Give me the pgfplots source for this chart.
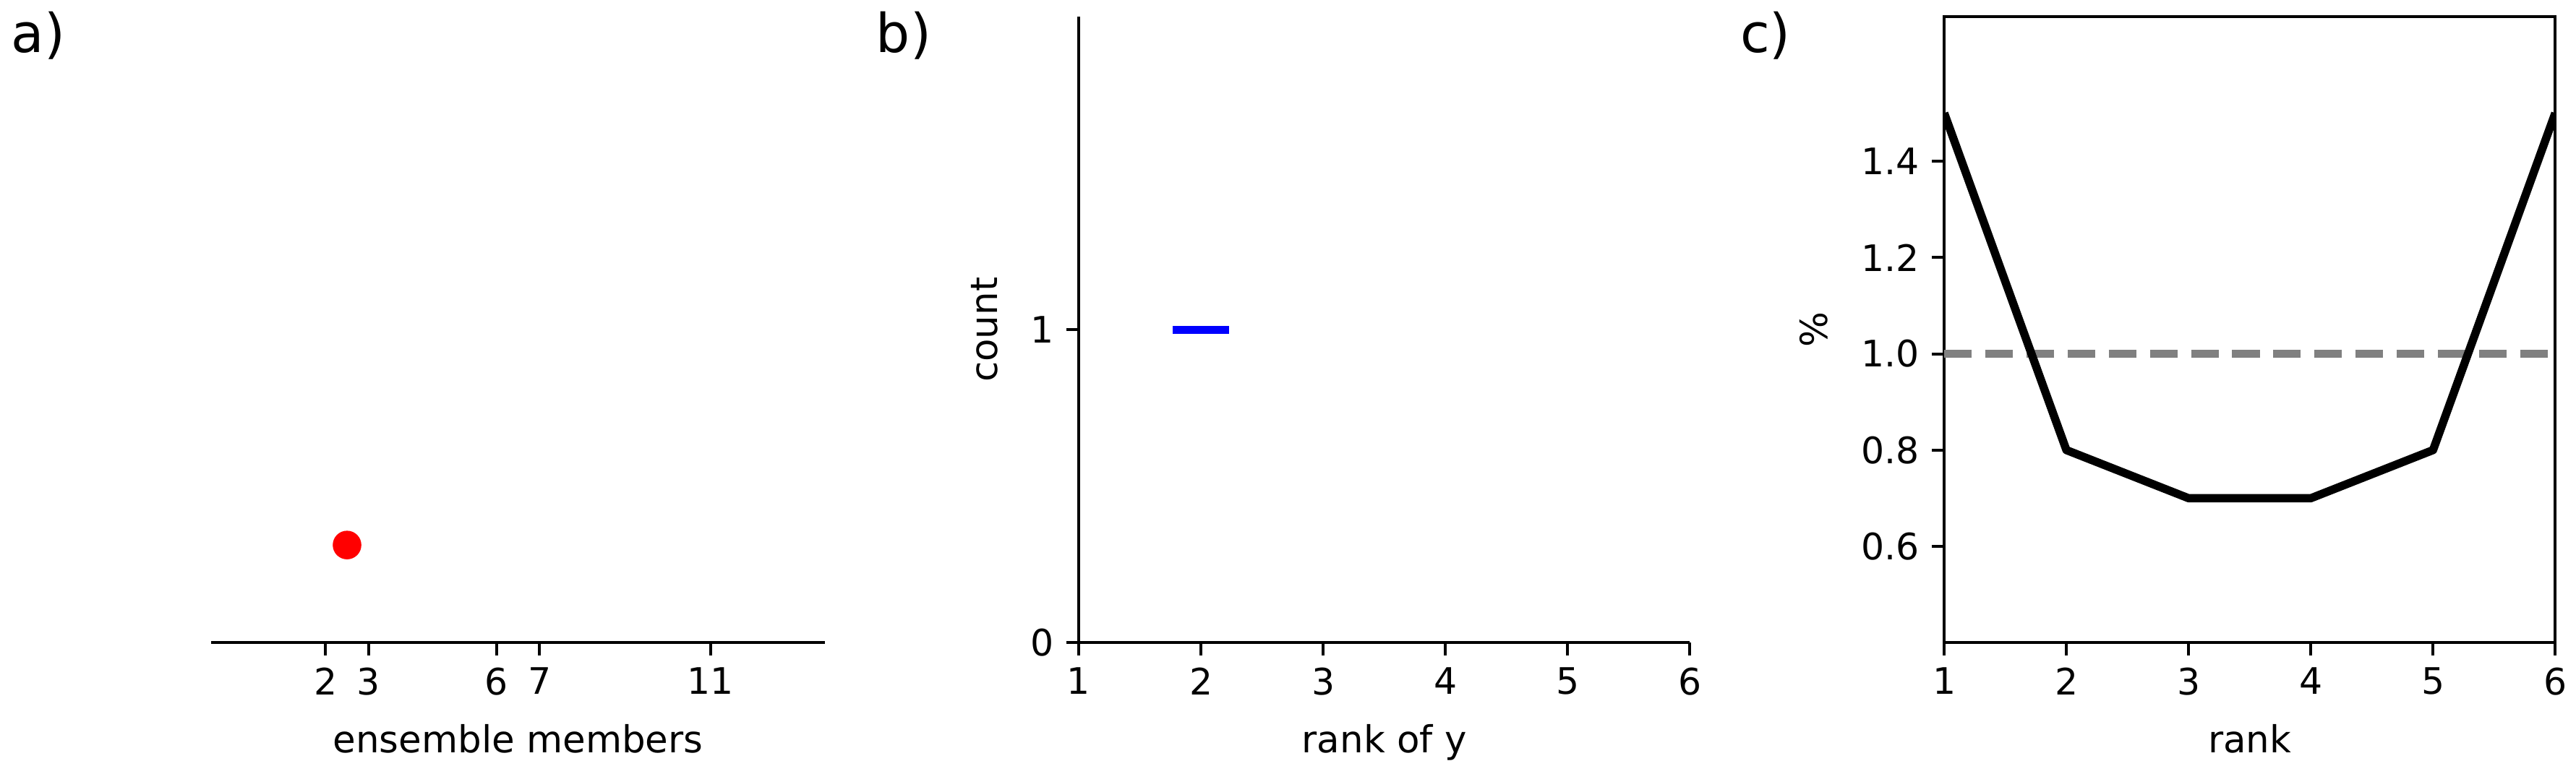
\documentclass[border=0pt]{standalone}
\usepackage{fontspec}
\setmainfont{DejaVu Sans}
\usepackage{pgfplots}
\pgfplotsset{compat=1.18}

\pgfplotsset{
  every axis/.append style={
    scale only axis, height=175pt,
    axis line style={line width=0.8pt,-},
    every outer x axis line/.append style={-},
    every outer y axis line/.append style={-},
    tick style={line width=0.8pt, black},
    major tick length=3.5pt,
    tick align=outside,
    /pgf/number format/assume math mode=true,
    tick label style={font=\fontsize{10.2}{12}\selectfont},
    label style={font=\fontsize{10.4}{12}\selectfont},
    xlabel style={yshift=-1.2pt},
    ylabel style={yshift=2.3pt},
  }
}

\begin{document}
\begin{tikzpicture}

% a) ensemble members
\begin{axis}[at={(59pt,36.7pt)}, anchor=south west, width=171.6pt,
  axis x line*=bottom, axis y line=none,
  xmin=-0.68, xmax=13.68, ymin=0, ymax=1,
  xtick={2,3,6,7,11},
  xlabel={ensemble members}]
\addplot[only marks, mark=*, mark size=3.8pt, mark options={draw=red, fill=red}] coordinates {(2.5,0.156)};
\end{axis}

% b) rank of y
\begin{axis}[at={(301.5pt,36.7pt)}, anchor=south west, width=170.8pt,
  axis x line*=bottom, axis y line*=left,
  xmin=1, xmax=6, ymin=0, ymax=2,
  xtick={1,2,3,4,5,6}, ytick={0,1},
  xlabel={rank of y}, ylabel={count}]
\addplot[blue, line width=2.2pt] coordinates {(1.77,1)(2.23,1)};
\end{axis}

% c) rank histogram
\begin{axis}[at={(543.4pt,36.7pt)}, anchor=south west, width=170.8pt,
  xtick pos=left, ytick pos=left,
  xmin=1, xmax=6, ymin=0.4, ymax=1.7,
  xtick={1,2,3,4,5,6}, ytick={0.6,0.8,1.0,1.2,1.4},
  yticklabel style={/pgf/number format/.cd, fixed, fixed zerofill, precision=1},
  xlabel={rank}, ylabel={\%}]
\addplot[color={rgb,255:red,128;green,128;blue,128}, line width=2.3pt, dash pattern=on 7.7pt off 3.8pt] coordinates {(1,1)(6,1)};
\addplot[black, line width=2.3pt, line join=round] coordinates {(1,1.5)(2,0.8)(3,0.7)(4,0.7)(5,0.8)(6,1.5)};
\end{axis}

\node[anchor=north west, inner sep=0, font=\fontsize{15}{18}\selectfont] at (3pt,213.4pt) {a)};
\node[anchor=north west, inner sep=0, font=\fontsize{15}{18}\selectfont] at (244.7pt,213.4pt) {b)};
\node[anchor=north west, inner sep=0, font=\fontsize{15}{18}\selectfont] at (486.2pt,213.4pt) {c)};

\pgfresetboundingbox
\path[use as bounding box] (0pt,0pt) rectangle (720pt,216.4pt);
\end{tikzpicture}
\end{document}
